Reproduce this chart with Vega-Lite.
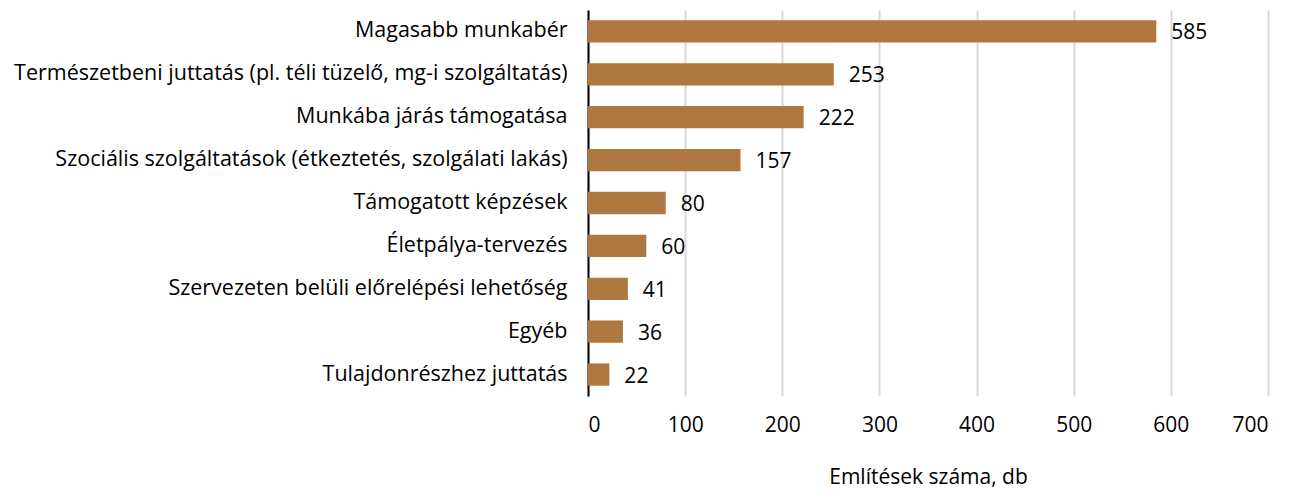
{
  "$schema": "https://vega.github.io/schema/vega-lite/v6.json",
  "autosize": {"type": "none"},
  "width": 680,
  "height": 386,
  "padding": {"left": 588, "top": 10, "right": 32, "bottom": 96},
  "background": "white",
  "data": {"values": [
    {"cat": "Magasabb munkabér", "v": 585},
    {"cat": "Természetbeni juttatás (pl. téli tüzelő, mg-i szolgáltatás)", "v": 253},
    {"cat": "Munkába járás támogatása", "v": 222},
    {"cat": "Szociális szolgáltatások (étkeztetés, szolgálati lakás)", "v": 157},
    {"cat": "Támogatott képzések", "v": 80},
    {"cat": "Életpálya-tervezés", "v": 60},
    {"cat": "Szervezeten belüli előrelépési lehetőség", "v": 41},
    {"cat": "Egyéb", "v": 36},
    {"cat": "Tulajdonrészhez juttatás", "v": 22}
  ]},
  "config": {
    "view": {"stroke": null},
    "font": "Open Sans"
  },
  "encoding": {
    "y": {
      "field": "cat", "type": "nominal", "sort": null,
      "scale": {"paddingInner": 0.48, "paddingOuter": 0.24},
      "axis": {
        "title": null, "ticks": false, "domainColor": "#000000", "domainWidth": 2,
        "labelFontSize": 21.5, "labelColor": "#000000", "labelPadding": 21, "labelLimit": 620, "grid": false
      }
    },
    "x": {
      "field": "v", "type": "quantitative",
      "scale": {"domain": [0, 700], "nice": false},
      "axis": {
        "title": "Említések száma, db", "titleFontSize": 21, "titleFontWeight": "normal", "titleColor": "#000000", "titlePadding": 31,
        "values": [0, 100, 200, 300, 400, 500, 600, 700],
        "domain": false, "ticks": false, "labelFontSize": 21, "labelColor": "#000000", "labelPadding": 18,
        "grid": true, "gridColor": "#d9d9d9", "gridWidth": 2
      }
    }
  },
  "layer": [
    {"mark": {"type": "bar", "color": "#ae7840"}},
    {"mark": {"type": "text", "align": "left", "dx": 15, "dy": 2, "fontSize": 21, "color": "#000000"}, "encoding": {"text": {"field": "v"}}}
  ]
}
